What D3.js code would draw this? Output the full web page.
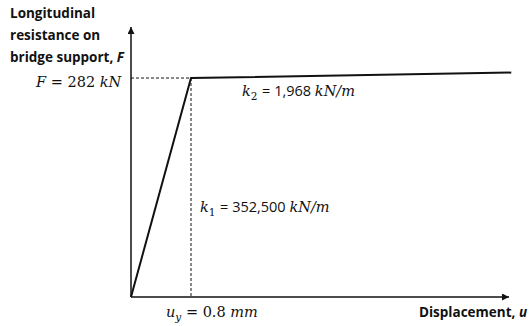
<!DOCTYPE html>
<html>
<head>
<meta charset="utf-8">
<script src="https://cdn.jsdelivr.net/npm/d3@7/dist/d3.min.js"></script>
<style>
  html, body { margin: 0; padding: 0; background: #fff; }
  svg { display: block; }
  .lbl { font-family: "Open Sans", "Liberation Sans", sans-serif; font-weight: bold; font-size: 13.5px; fill: #111; }
  .math { font-family: "DejaVu Serif", "Liberation Serif", serif; font-size: 14.5px; fill: #111; }
  .num { font-family: "Open Sans", "Liberation Sans", sans-serif; font-size: 14.5px; }
</style>
</head>
<body>
<svg id="chart" width="531" height="326"></svg>
<script>
// Bilinear force–displacement model of the bridge support
const displacement = [0, 0.8, 5.07];      // u, mm (schematic)
const force = [0, 282, 289];              // F, kN (schematic)
const yieldDisp = 0.8;                     // u_y, mm
const yieldForce = 282;                    // F_y, kN
const axisMax = { u: 5.04, F: 347.7 };

const svg = d3.select("#chart");
const origin = { x: 131, y: 297 };
const x = d3.scaleLinear().domain([0, axisMax.u]).range([origin.x, 509]);
const y = d3.scaleLinear().domain([0, axisMax.F]).range([origin.y, 27]);

// arrow marker for axes
const defs = svg.append("defs");
defs.append("marker")
  .attr("id", "arrow")
  .attr("viewBox", "0 0 10 10")
  .attr("refX", 10).attr("refY", 5)
  .attr("markerWidth", 7).attr("markerHeight", 7)
  .attr("markerUnits", "userSpaceOnUse")
  .attr("orient", "auto")
  .append("path").attr("d", "M0,0 L10,5 L0,10 z").attr("fill", "#111");

// axes
svg.append("line")
  .attr("x1", x(0)).attr("y1", y(0)).attr("x2", x(axisMax.u)).attr("y2", y(0))
  .attr("stroke", "#111").attr("stroke-width", 1.5).attr("marker-end", "url(#arrow)");
svg.append("line")
  .attr("x1", x(0)).attr("y1", y(0)).attr("x2", x(0)).attr("y2", y(axisMax.F))
  .attr("stroke", "#111").attr("stroke-width", 1.5).attr("marker-end", "url(#arrow)");

// dashed guides to the yield point
svg.append("line")
  .attr("x1", x(0)).attr("y1", y(yieldForce)).attr("x2", x(yieldDisp)).attr("y2", y(yieldForce))
  .attr("stroke", "#111").attr("stroke-width", 1).attr("stroke-dasharray", "3,2");
svg.append("line")
  .attr("x1", x(yieldDisp)).attr("y1", y(yieldForce)).attr("x2", x(yieldDisp)).attr("y2", y(0))
  .attr("stroke", "#111").attr("stroke-width", 1).attr("stroke-dasharray", "3,2");

// force–displacement curve
const pts = displacement.map((u, i) => [u, force[i]]);
svg.append("path")
  .datum(pts)
  .attr("fill", "none")
  .attr("stroke", "#111")
  .attr("stroke-width", 2)
  .attr("d", d3.line().x(d => x(d[0])).y(d => y(d[1])));

// axis titles
const yTitle = svg.append("text").attr("class", "lbl");
["Longitudinal", "resistance on"].forEach((t, i) => {
  yTitle.append("tspan").attr("x", 10).attr("y", 18 + i * 22).text(t);
});
yTitle.append("tspan").attr("x", 10).attr("y", 62).text("bridge support, ");
yTitle.append("tspan").attr("font-style", "italic").text("F");

const xTitle = svg.append("text").attr("class", "lbl").attr("x", 419).attr("y", 317);
xTitle.append("tspan").text("Displacement, ");
xTitle.append("tspan").attr("font-style", "italic").text("u");

// annotation helper: italic variable, optional subscript, then value and italic unit
function mathLabel(px, py, v, sub, value, unit, valClass, gap) {
  const t = svg.append("text").attr("class", "math").attr("x", px).attr("y", py);
  t.append("tspan").attr("font-style", "italic").text(v);
  if (sub) {
    t.append("tspan").attr("dy", 4).attr("font-size", "10.5px").attr("font-style", sub.italic ? "italic" : "normal").text(sub.text);
    t.append("tspan").attr("dy", -4).text(gap || " ");
  } else {
    t.append("tspan").text(gap || "  ");
  }
  t.append("tspan").attr("class", valClass || null).text("= " + value + " ");
  t.append("tspan").attr("font-style", "italic").text(unit);
  return t;
}

mathLabel(36, 87, "F", null, yieldForce, "kN", null, "  ");
mathLabel(242, 96, "k", { text: "2" }, d3.format(",")(1968), "kN/m", "num");
mathLabel(200, 212, "k", { text: "1" }, d3.format(",")(352500), "kN/m", "num");
mathLabel(166, 317, "u", { text: "y", italic: true }, yieldDisp, "mm");
</script>
</body>
</html>
